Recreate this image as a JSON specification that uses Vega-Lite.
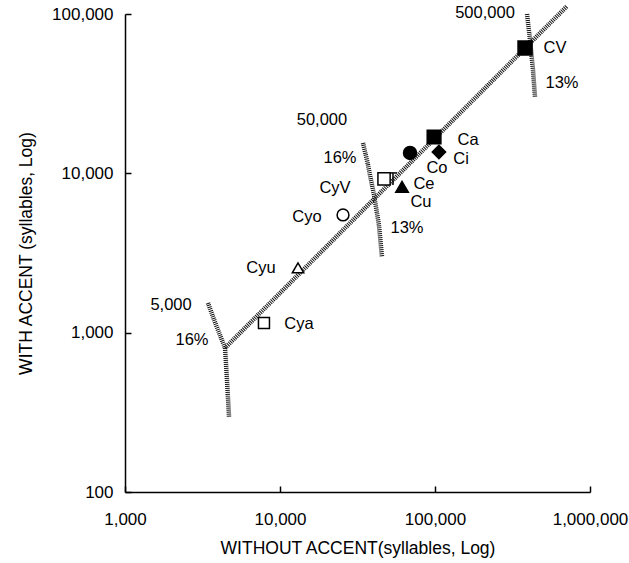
{
  "$schema": "https://vega.github.io/schema/vega-lite/v6.json",
  "width": 465,
  "height": 478,
  "autosize": "none",
  "padding": {"left": 125, "top": 14, "right": 39, "bottom": 71},
  "background": "white",
  "config": {
    "view": {"stroke": null},
    "font": "Liberation Sans",
    "axis": {
      "domainColor": "black",
      "domainWidth": 1.5,
      "tickColor": "black",
      "tickWidth": 1.5,
      "tickSize": -6,
      "grid": false,
      "labelFont": "Liberation Sans",
      "titleFont": "Liberation Sans",
      "labelFontSize": 17,
      "titleFontSize": 17.5,
      "labelColor": "black",
      "titleColor": "black",
      "titleFontWeight": "normal",
      "labelFlush": false,
      "labelOverlap": false
    }
  },
  "datasets": {
    "curves": [
      {"curve": "main", "i": 0, "x": 4420, "y": 802},
      {"curve": "main", "i": 1, "x": 711000, "y": 112000},
      {"curve": "c5000", "i": 0, "x": 3430, "y": 1536},
      {"curve": "c5000", "i": 1, "x": 3865, "y": 1118},
      {"curve": "c5000", "i": 2, "x": 4420, "y": 802},
      {"curve": "c5000", "i": 3, "x": 4550, "y": 505},
      {"curve": "c5000", "i": 4, "x": 4690, "y": 296},
      {"curve": "c50000", "i": 0, "x": 34300, "y": 15520},
      {"curve": "c50000", "i": 1, "x": 36970, "y": 11290},
      {"curve": "c50000", "i": 2, "x": 40400, "y": 7320},
      {"curve": "c50000", "i": 3, "x": 43500, "y": 4740},
      {"curve": "c50000", "i": 4, "x": 45500, "y": 2990},
      {"curve": "c500000", "i": 0, "x": 392500, "y": 100000},
      {"curve": "c500000", "i": 1, "x": 410000, "y": 68800},
      {"curve": "c500000", "i": 2, "x": 428700, "y": 44600},
      {"curve": "c500000", "i": 3, "x": 441700, "y": 30200}
    ],
    "bars": [
      {"x": 51260, "x2": 56850, "y": 10060, "y2": 10060},
      {"x": 53580, "x2": 53580, "y": 10060, "y2": 8456}
    ],
    "points": [
      {"name": "CV", "x": 381000, "y": 61200},
      {"name": "Ca", "x": 98600, "y": 16900},
      {"name": "Ci", "x": 106000, "y": 13620},
      {"name": "Co", "x": 69000, "y": 13430},
      {"name": "Ce", "x": 61300, "y": 8220},
      {"name": "CyV", "x": 46900, "y": 9220},
      {"name": "Cyo", "x": 25500, "y": 5480},
      {"name": "Cyu", "x": 13070, "y": 2550},
      {"name": "Cya", "x": 7880, "y": 1150}
    ],
    "labels": [
      {"label": "5,000", "x": 1981, "y": 1492},
      {"label": "16%", "x": 2706, "y": 900},
      {"label": "Cya", "x": 13265, "y": 1134},
      {"label": "Cyu", "x": 7540, "y": 2548},
      {"label": "Cyo", "x": 14940, "y": 5323},
      {"label": "CyV", "x": 22630, "y": 8096},
      {"label": "16%", "x": 24390, "y": 12490},
      {"label": "50,000", "x": 18660, "y": 21640},
      {"label": "13%", "x": 65960, "y": 4542},
      {"label": "Ce", "x": 84920, "y": 8580},
      {"label": "Cu", "x": 81220, "y": 6614},
      {"label": "Co", "x": 103000, "y": 10750},
      {"label": "Ci", "x": 147200, "y": 12310},
      {"label": "Ca", "x": 163300, "y": 16210},
      {"label": "CV", "x": 594700, "y": 61260},
      {"label": "13%", "x": 659800, "y": 36940},
      {"label": "500,000", "x": 210200, "y": 101600}
    ]
  },
  "layer": [
    {
      "data": {"name": "curves"},
      "mark": {"type": "line", "strokeWidth": 4.5, "strokeDash": [1, 1], "color": "#111", "clip": false},
      "encoding": {
        "x": {
          "field": "x", "type": "quantitative",
          "scale": {"type": "log", "domain": [1000, 1000000]},
          "axis": {"values": [1000, 10000, 100000, 1000000], "format": ",d", "labelPadding": 25, "title": "WITHOUT ACCENT(syllables, Log)", "titlePadding": 12}
        },
        "y": {
          "field": "y", "type": "quantitative",
          "scale": {"type": "log", "domain": [100, 100000]},
          "axis": {"values": [100, 1000, 10000, 100000], "format": ",d", "labelPadding": 18, "title": "WITH ACCENT (syllables, Log)", "titlePadding": 16}
        },
        "detail": {"field": "curve"},
        "order": {"field": "i", "type": "quantitative"}
      }
    },
    {
      "data": {"name": "bars"},
      "mark": {"type": "rule", "color": "black", "strokeWidth": 1.5},
      "encoding": {
        "x": {"field": "x", "type": "quantitative"},
        "x2": {"field": "x2"},
        "y": {"field": "y", "type": "quantitative"},
        "y2": {"field": "y2"}
      }
    },
    {
      "data": {"name": "points"},
      "mark": {"type": "point", "filled": true, "stroke": "black", "strokeWidth": 1.5, "opacity": 1},
      "encoding": {
        "x": {"field": "x", "type": "quantitative"},
        "y": {"field": "y", "type": "quantitative"},
        "shape": {"field": "name", "type": "nominal", "legend": null,
          "scale": {"domain": ["CV", "Ca", "Ci", "Co", "Ce", "CyV", "Cyo", "Cyu", "Cya"],
                    "range": ["square", "square", "diamond", "circle", "triangle-up", "square", "circle", "triangle-up", "square"]}},
        "size": {"field": "name", "type": "nominal", "legend": null,
          "scale": {"domain": ["CV", "Ca", "Ci", "Co", "Ce", "CyV", "Cyo", "Cyu", "Cya"],
                    "range": [196, 121, 144, 100, 121, 144, 81, 100, 64]}},
        "fill": {"field": "name", "type": "nominal", "legend": null,
          "scale": {"domain": ["CV", "Ca", "Ci", "Co", "Ce", "CyV", "Cyo", "Cyu", "Cya"],
                    "range": ["black", "black", "black", "black", "black", "white", "white", "white", "white"]}}
      }
    },
    {
      "data": {"name": "labels"},
      "mark": {"type": "text", "fontSize": 16.5, "align": "center", "baseline": "middle", "color": "black", "font": "Liberation Sans"},
      "encoding": {
        "x": {"field": "x", "type": "quantitative"},
        "y": {"field": "y", "type": "quantitative"},
        "text": {"field": "label"}
      }
    }
  ]
}
